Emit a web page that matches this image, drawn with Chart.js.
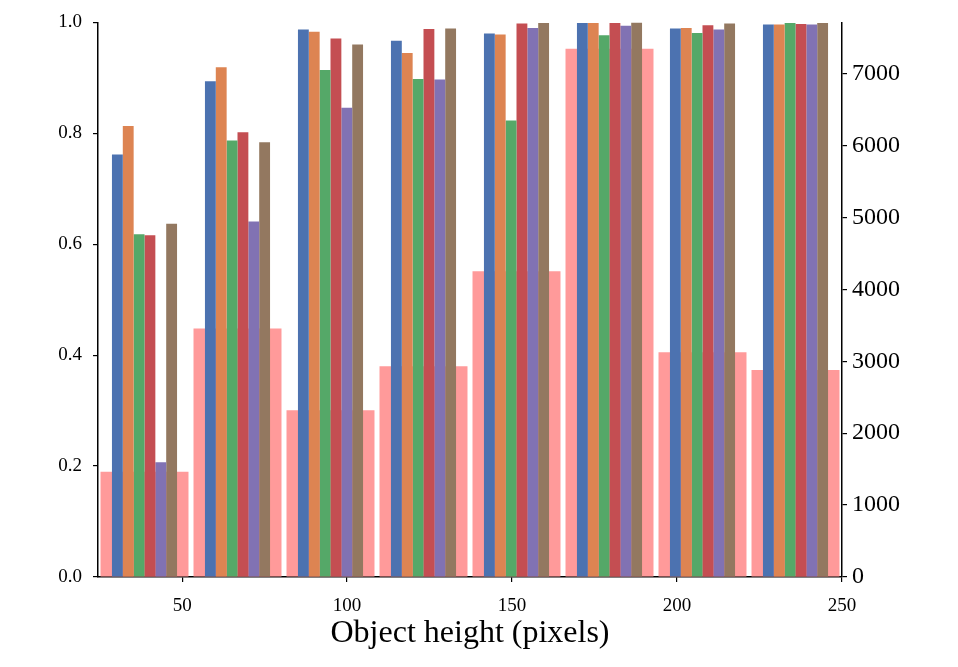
<!DOCTYPE html>
<html>
<head>
<meta charset="utf-8">
<script src="https://cdn.jsdelivr.net/npm/chart.js@4/dist/chart.umd.min.js"></script>
<style>
html,body{margin:0;padding:0;background:#fff;}
#wrap{width:958px;height:667px;position:relative;}
</style>
</head>
<body>
<div id="wrap"><canvas id="c" width="958" height="667"></canvas></div>
<script>
// ---- data ----
const bins = ['25–53', '53–81', '81–109', '109–137', '137–165', '165–194', '194–222', '222–250'];
const seriesBlue   = [0.762, 0.894, 0.987, 0.967, 0.980, 0.999, 0.989, 0.996];
const seriesOrange = [0.813, 0.919, 0.983, 0.945, 0.978, 0.999, 0.990, 0.996];
const seriesGreen  = [0.618, 0.787, 0.914, 0.898, 0.823, 0.977, 0.981, 0.999];
const seriesRed    = [0.616, 0.802, 0.971, 0.988, 0.998, 0.999, 0.995, 0.997];
const seriesPurple = [0.207, 0.641, 0.846, 0.897, 0.990, 0.994, 0.987, 0.996];
const seriesBrown  = [0.637, 0.784, 0.960, 0.989, 0.999, 1.000, 0.998, 0.999];
const counts       = [1463, 3456, 2320, 2932, 4251, 7346, 3126, 2880];
const xTicks  = [50, 100, 150, 200, 250];
const yTicks  = [0, 0.2, 0.4, 0.6, 0.8, 1.0];
const y2Ticks = [0, 1000, 2000, 3000, 4000, 5000, 6000, 7000];
const xRange  = [24.5, 250];

const FONT = "'Liberation Serif', 'DejaVu Serif', serif";
const colors = ['#4C72B0', '#DD8452', '#55A868', '#C44E52', '#8172B3', '#937860'];
const series = [seriesBlue, seriesOrange, seriesGreen, seriesRed, seriesPurple, seriesBrown];
const names = ['Series 1', 'Series 2', 'Series 3', 'Series 4', 'Series 5', 'Series 6'];

const datasets = series.map((d, i) => ({
  label: names[i],
  data: d,
  backgroundColor: colors[i],
  borderWidth: 0,
  xAxisID: 'xb',
  yAxisID: 'y',
  categoryPercentage: 0.70,
  barPercentage: 1.0,
  order: 0
}));
datasets.push({
  label: 'Count',
  data: counts,
  backgroundColor: '#FF9A9A',
  borderWidth: 0,
  xAxisID: 'xb',
  yAxisID: 'y2',
  grouped: false,
  categoryPercentage: 1.0,
  barPercentage: 0.946,
  order: 1
});

const tickGrid = {display: true, drawOnChartArea: false, drawTicks: true, tickLength: 5, color: '#000', tickColor: '#000', lineWidth: 1.2, offset: false};
const border = {display: true, color: '#000', width: 1.5};

new Chart(document.getElementById('c'), {
  type: 'bar',
  data: {labels: bins, datasets},
  options: {
    responsive: false,
    animation: false,
    devicePixelRatio: 1,
    layout: {padding: {top: 22, left: 0, right: 0, bottom: 0}},
    plugins: {legend: {display: false}, tooltip: {enabled: false}},
    scales: {
      x: {
        type: 'linear', position: 'bottom', offset: false,
        min: xRange[0], max: xRange[1],
        afterBuildTicks: s => { s.ticks = xTicks.map(v => ({value: v})); },
        grid: tickGrid, border,
        ticks: {color: '#000', font: {family: FONT, size: 19}, padding: 13, maxRotation: 0, autoSkip: false},
        title: {display: true, text: 'Object height (pixels)', color: '#000', font: {family: FONT, size: 32}, padding: {top: 0, bottom: 14}},
        afterFit: s => { s.height = 90; }
      },
      xb: {type: 'category', labels: bins, display: false, offset: true, grid: {offset: true}},
      y: {
        position: 'left', min: 0, max: 1,
        afterBuildTicks: s => { s.ticks = yTicks.map(v => ({value: v})); },
        grid: tickGrid, border,
        ticks: {color: '#000', font: {family: FONT, size: 19}, padding: 11, callback: v => Number(v).toFixed(1)},
        afterFit: s => { s.width = 98; }
      },
      y2: {
        position: 'right', min: 0, max: Math.max(...counts) * 1.05,
        afterBuildTicks: s => { s.ticks = y2Ticks.map(v => ({value: v})); },
        grid: tickGrid, border,
        ticks: {color: '#000', font: {family: FONT, size: 24}, padding: 5, callback: v => String(v)},
        afterFit: s => { s.width = 116; }
      }
    }
  }
});
</script>
</body>
</html>
